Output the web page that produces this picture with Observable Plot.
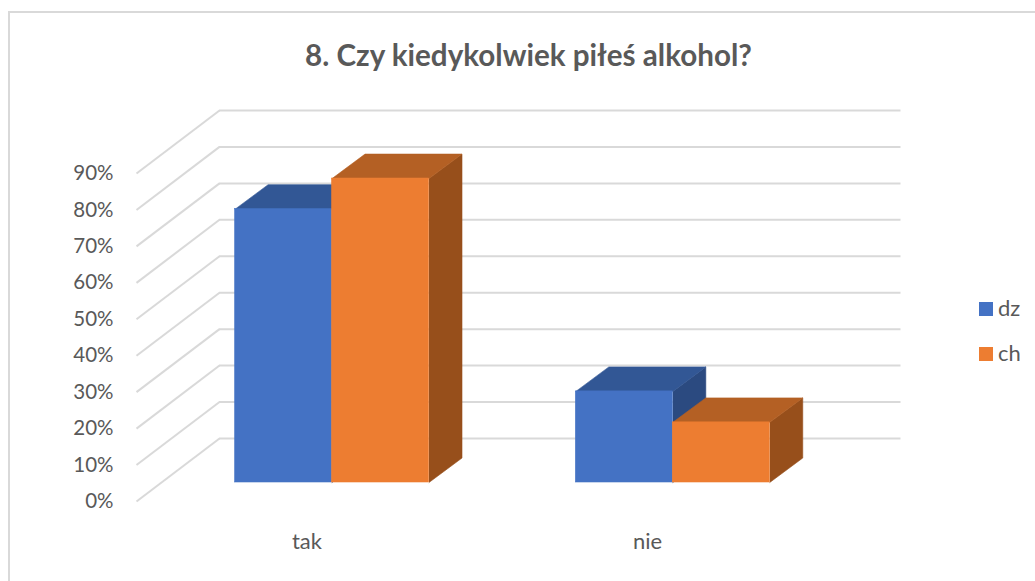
<!DOCTYPE html>
<html lang="pl">
<head>
<meta charset="utf-8">
<title>8. Czy kiedykolwiek piłeś alkohol?</title>
<script src="https://cdn.jsdelivr.net/npm/d3@7"></script>
<script src="https://cdn.jsdelivr.net/npm/@observablehq/plot@0.6"></script>
<style>
  html, body { margin: 0; padding: 0; background: #fff; }
  #chart { position: relative; width: 1035px; height: 581px; overflow: hidden; font-family: Lato, sans-serif; color: #595959; }
  #chart svg { position: absolute; left: 0; top: 0; background: transparent; }
  #border { position: absolute; left: 8px; top: 11px; width: 1100px; height: 700px; border: 2px solid #d9d9d9; box-sizing: border-box; }
  #title { position: absolute; left: 0; top: 38px; width: 1057px; margin: 0; text-align: center; font-size: 29.6px; line-height: 34px; font-weight: 700; color: #595959; }
  .key { position: absolute; left: 979px; font-size: 22px; line-height: 24px; height: 24px; padding-left: 19px; }
  .key i { position: absolute; left: 0; top: 6px; width: 14px; height: 14px; }
</style>
</head>
<body>
<div id="chart">
  <div id="border"></div>
  <h1 id="title">8. Czy kiedykolwiek piłeś alkohol?</h1>
</div>
<script>
const categories = ["tak", "nie"];
const seriesNames = ["dz", "ch"];
const dzValues = [75, 25];
const chValues = [83.4, 16.5];
const percentTicks = [0, 10, 20, 30, 40, 50, 60, 70, 80, 90];
const seriesColors = { dz: ["#4472c4", "#325795", "#2b4a80"], ch: ["#ed7d31", "#b46024", "#974f1b"] };

// Oblique projection, in data units of the two scales
const barWidth = 0.2845;      // one bar, in category units
const barDepthX = 0.0968;     // receding depth of a bar, category units
const barDepthY = 6.72;       // receding depth of a bar, percent units
const wallDepthX = 0.2436;    // receding depth of the floor, category units
const wallDepthY = 17.3;      // receding depth of the floor, percent units

const rows = [];
seriesNames.forEach((s, si) => {
  const vals = s === "dz" ? dzValues : chValues;
  categories.forEach((c, ci) => {
    const x1 = ci + 0.5 + (si - 1) * barWidth;
    rows.push({ s, c, v: vals[ci], x1, x2: x1 + barWidth });
  });
});

const polygon = (r, face) => {
  const d = { x: barDepthX, y: barDepthY };
  const pts = face === "top"
    ? [[r.x1, r.v], [r.x1 + d.x, r.v + d.y], [r.x2 + d.x, r.v + d.y], [r.x2, r.v]]
    : [[r.x2, 0], [r.x2 + d.x, d.y], [r.x2 + d.x, r.v + d.y], [r.x2, r.v]];
  return pts.map(([x, y]) => ({ x, y, key: r.c + r.s + face }));
};

const barOffset = { dx: 25.2, dy: -19 };
const barMarks = rows
  .map(r => [
    Plot.line(polygon(r, "side"), { x: "x", y: "y", z: "key", fill: seriesColors[r.s][2], stroke: seriesColors[r.s][2], strokeWidth: 0.6, ...barOffset }),
    Plot.line(polygon(r, "top"), { x: "x", y: "y", z: "key", fill: seriesColors[r.s][1], stroke: seriesColors[r.s][1], strokeWidth: 0.6, ...barOffset }),
    Plot.rectY([r], { x1: "x1", x2: "x2", y1: 0, y2: "v", fill: seriesColors[r.s][0], stroke: seriesColors[r.s][0], strokeWidth: 0.6, ...barOffset })
  ]);

const plot = Plot.plot({
  width: 1035,
  height: 581,
  marginLeft: 136,
  marginRight: 217.5,
  marginTop: 173,
  marginBottom: 80,
  style: { fontFamily: "Lato, sans-serif", background: "transparent", overflow: "visible" },
  x: { domain: [0, 2], axis: null },
  y: { domain: [0, 90], axis: null },
  marks: [
    Plot.link(percentTicks, { x1: 0, x2: wallDepthX, y1: d => d, y2: d => d + wallDepthY, stroke: "#d9d9d9", strokeWidth: 2 }),
    Plot.ruleY(percentTicks, { y: d => d, x1: wallDepthX, x2: 2 + wallDepthX, dy: -63, stroke: "#d9d9d9", strokeWidth: 2 }),
    Plot.axisY(percentTicks, { anchor: "left", tickSize: 0, tickPadding: 23, label: null, tickFormat: d => d + "%", fontSize: 20.5, fill: "#595959" }),
    Plot.text(categories, { x: (d, i) => i + 0.5, y: 0, text: d => d, dy: 40, fontSize: 22, fill: "#595959" }),
    ...barMarks.flat()
  ]
});
const root = document.getElementById("chart");
root.appendChild(plot);

seriesNames.forEach((s, i) => {
  const k = document.createElement("div");
  k.className = "key";
  k.style.top = (296 + i * 45) + "px";
  const sw = document.createElement("i");
  sw.style.background = seriesColors[s][0];
  k.appendChild(sw);
  k.appendChild(document.createTextNode(s));
  root.appendChild(k);
});
</script>
</body>
</html>
